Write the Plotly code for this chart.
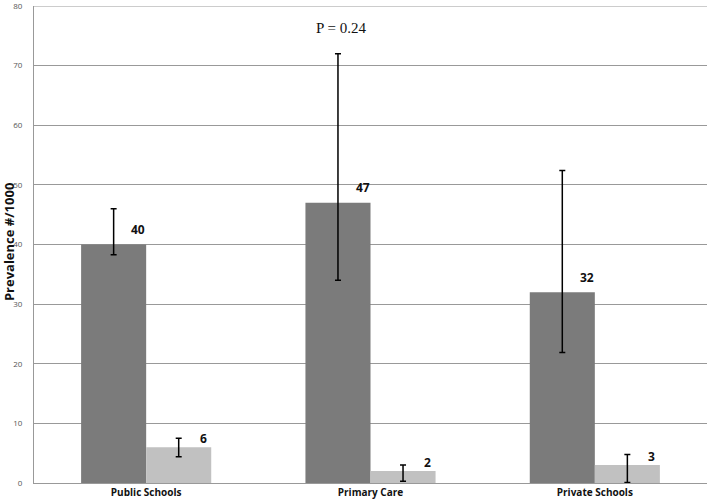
import plotly.graph_objects as go

categories = ["Public Schools", "Primary Care", "Private Schools"]
dark_values = [40, 47, 32]
dark_upper = [46, 72, 52.4]
dark_lower = [38.3, 34, 21.9]
light_values = [6, 2, 3]
light_upper = [7.5, 3, 4.8]
light_lower = [4.4, 0.3, 0.1]
y_ticks = [0, 10, 20, 30, 40, 50, 60, 70, 80]

err_style = dict(type="data", symmetric=False, color="#000000", thickness=1.5, width=3)

fig = go.Figure()
fig.add_trace(go.Bar(
    x=categories, y=dark_values, marker_color="#7b7b7b", marker_line_width=0,
    error_y=dict(array=[u - v for u, v in zip(dark_upper, dark_values)],
                 arrayminus=[v - l for v, l in zip(dark_values, dark_lower)], **err_style),
    showlegend=False,
))
fig.add_trace(go.Bar(
    x=categories, y=light_values, marker_color="#c1c1c1", marker_line_width=0,
    error_y=dict(array=[u - v for u, v in zip(light_upper, light_values)],
                 arrayminus=[v - l for v, l in zip(light_values, light_lower)], **err_style),
    showlegend=False,
))

annotations = []
for c, v in zip(categories, dark_values):
    annotations.append(dict(x=c, y=v, xref="x", yref="y", text=f"<b>{v}</b>", showarrow=False,
                            xshift=-8, yshift=15, font=dict(family="Open Sans", size=12, color="#111")))
for c, v in zip(categories, light_values):
    annotations.append(dict(x=c, y=v, xref="x", yref="y", text=f"<b>{v}</b>", showarrow=False,
                            xshift=57, yshift=9, font=dict(family="Open Sans", size=12, color="#111")))
annotations.append(dict(x=0.456, y=0.975, xref="paper", yref="paper", text="P = 0.24", showarrow=False,
                        font=dict(family="Liberation Serif", size=15, color="#111")))
annotations.append(dict(x=0, y=0.505, xref="paper", yref="paper", xshift=-25, xanchor="center",
                        yanchor="middle", text="<b>Prevalence #/1000</b>",
                        textangle=-90, showarrow=False, font=dict(family="Open Sans", size=13, color="#111")))

fig.update_layout(
    width=709, height=504,
    margin=dict(l=34, r=2, t=6, b=21, autoexpand=False),
    paper_bgcolor="white", plot_bgcolor="white",
    barmode="group", bargap=0.42, bargroupgap=0,
    annotations=annotations,
    shapes=[dict(type="line", xref="paper", yref="y", x0=0, x1=1, y0=80, y1=80,
                 line=dict(color="#999", width=1), layer="below")],
    xaxis=dict(showgrid=False, showline=True, linecolor="#999", linewidth=1, automargin=False,
               tickfont=dict(family="Open Sans", size=10, color="#111"), ticks="",
               tickvals=categories, ticktext=[f"<b>{c}</b>" for c in categories]),
    yaxis=dict(range=[0, 80], tickvals=y_ticks, showgrid=True, gridcolor="#999", gridwidth=1,
               showline=True, linecolor="#999", linewidth=1, zeroline=False, automargin=False,
               tickfont=dict(family="Open Sans", size=8, color="#555"), ticks="",
               ticklabelstandoff=9, ticklabeloverflow="allow"),
)

fig.write_html("out.html", config={"displayModeBar": False},
               post_script="document.body.style.margin='0';")
